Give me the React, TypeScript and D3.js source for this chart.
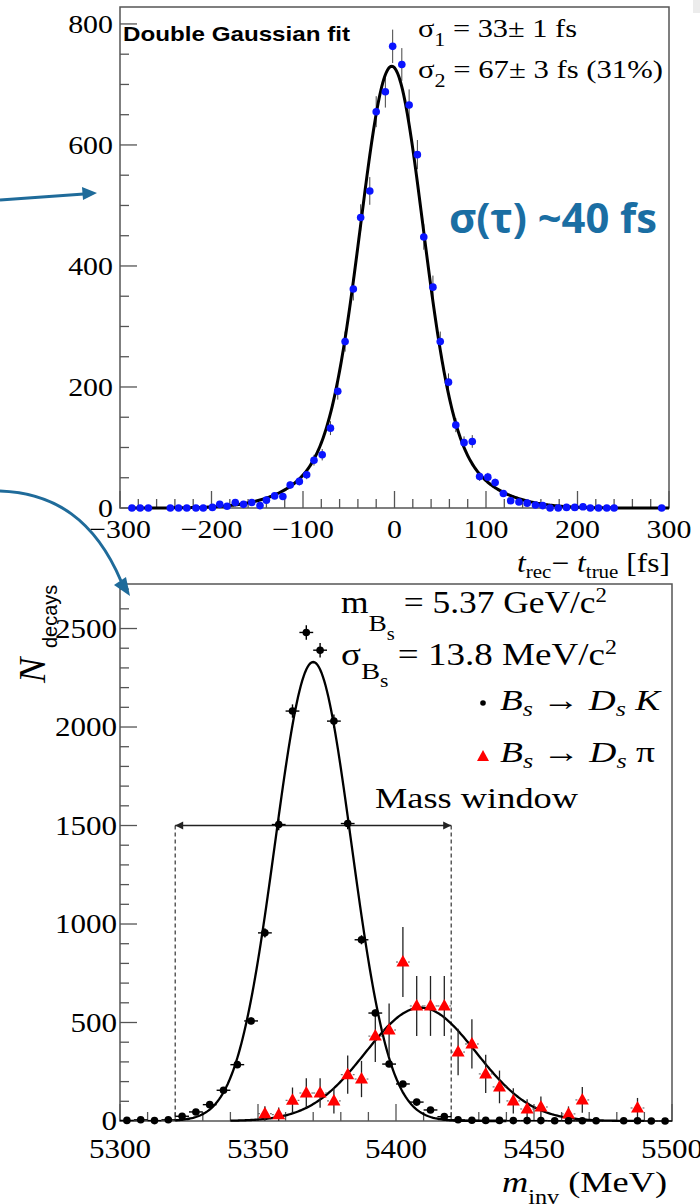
import React, { useEffect, useRef } from 'react';
import * as d3 from 'd3';

// ---- top panel: t_rec - t_true resolution ----
const tValues = [-287, -278, -269, -245, -236, -227, -217, -209, -199, -191, -183, -174, -165, -156, -147, -140, -131, -122, -114, -104, -96, -88, -79, -70, -62, -54, -45, -37, -27, -20, -10, -2, 8, 16, 25, 32, 42, 50, 59, 67, 76, 85, 93, 102, 110, 119, 127, 136, 145, 154, 162, 170, 179, 188, 197, 206, 214, 223, 232, 240, 292];
const tCounts = [0, 0, 0, 0, 0, 0, 0, 0, 1, 6, 3, 9, 6, 9, 4, 13, 20, 19, 38, 44, 55, 79, 88, 132, 193, 275, 362, 480, 524, 655, 688, 763, 733, 666, 584, 448, 365, 275, 208, 137, 108, 110, 52, 51, 42, 24, 12, 10, 8, 5, 4, 0, 0, 1, 1, 2, 0, 0, 0, 0, 0];
// double gaussian fit
const fitMean = -3;
const fitPeak = 730;
const sigma1 = 33;
const sigma2 = 67;
const frac2 = 0.31;

const topXTicks = [-300, -200, -100, 0, 100, 200, 300];
const topYTicks = [0, 200, 400, 600, 800];

// ---- bottom panel: invariant mass ----
const kMass = [5302.5, 5307.5, 5312.5, 5317.5, 5322.5, 5327.5, 5332.5, 5337.5, 5342.5, 5347.5, 5352.5, 5357.5, 5362.5, 5367.5, 5372.5, 5377.5, 5382.5, 5387.5, 5392.5, 5397.5, 5402.5, 5407.5, 5412.5, 5417.5, 5422.5, 5427.5, 5432.5, 5437.5, 5442.5, 5447.5, 5452.5, 5457.5, 5462.5, 5467.5, 5472.5, 5482.5, 5487.5, 5492.5, 5497.5];
const kCounts = [3, 6, 2, 6, 24, 46, 83, 156, 286, 508, 955, 1505, 2081, 2480, 2390, 2030, 1510, 920, 548, 289, 188, 96, 56, 22, 6, 4, 3, 3, 2, 2, 2, 1, 1, 1, 1, 1, 1, 0, 0];
const kErrors = [2, 2, 2, 2, 4, 5, 7, 9, 13, 17, 23, 29, 34, 37, 37, 34, 29, 23, 18, 13, 10, 7, 6, 3, 2, 2, 2, 2, 1, 1, 1, 1, 1, 1, 1, 1, 1, 1, 1];

const piMass = [5352.5, 5357.5, 5362.5, 5367.5, 5372.5, 5377.5, 5382.5, 5387.5, 5392.5, 5397.5, 5402.5, 5407.5, 5412.5, 5417.5, 5422.5, 5427.5, 5432.5, 5437.5, 5442.5, 5447.5, 5452.5, 5462.5, 5467.5, 5487.5];
const piCounts = [37, 32, 105, 142, 142, 102, 235, 213, 431, 462, 807, 584, 584, 584, 350, 391, 239, 173, 102, 61, 71, 36, 107, 66];
const piErrors = [38, 36, 65, 75, 75, 64, 97, 92, 131, 135, 178, 152, 152, 152, 118, 125, 97, 83, 64, 49, 53, 38, 65, 51];

const fitK = { mean: 5370, sigma: 13.8, amp: 2330 };
const fitPi = { mean: 5409, sigma: 20, amp: 575 };
const massWindow = [5320, 5420];

const botXTicks = [5300, 5350, 5400, 5450, 5500];
const botYTicks = [0, 500, 1000, 1500, 2000, 2500];

const SERIF = '"Liberation Serif", "DejaVu Serif", serif';
const SANS = '"Liberation Sans", Arial, sans-serif';
const BLUE_NOTE = '#1a6ea3';
const SX = 1.15; // the ROOT picture is a bit stretched sideways

type Part = { t: string; italic?: boolean; size?: number; dy?: number; family?: string };

function label(g: any, x: number, y: number, parts: Part[], o: any) {
    const txt = g.append('text')
        .attr('transform', `translate(${x},${y}) scale(${o.sx ?? 1},1)${o.rotate ? ` rotate(${o.rotate})` : ''}`)
        .attr('font-size', o.size)
        .attr('font-family', o.family ?? SERIF)
        .attr('text-anchor', o.anchor ?? 'start')
        .attr('fill', o.fill ?? '#000')
        .style('white-space', 'pre');
    if (o.weight) txt.attr('font-weight', o.weight);
    if (o.width) txt.attr('textLength', o.width).attr('lengthAdjust', 'spacingAndGlyphs');
    parts.forEach(p => {
        const ts = txt.append('tspan').text(p.t);
        if (p.italic) ts.attr('font-style', 'italic');
        if (p.size) ts.attr('font-size', p.size);
        if (p.dy) ts.attr('dy', p.dy);
        if (p.family) ts.attr('font-family', p.family);
    });
    return txt;
}

const App = () => {
    const svgRef = useRef<SVGSVGElement>(null);

    useEffect(() => {
        const svg = d3.select(svgRef.current);
        svg.selectAll('*').remove();
        const fmt = d3.format('d');

        svg.append('rect').attr('width', 700).attr('height', 1204).attr('fill', '#fff');
        svg.append('rect').attr('x', 693).attr('y', 0).attr('width', 7).attr('height', 13).attr('fill', '#ececec');

        // ================= TOP PANEL =================
        const top = { left: 120, right: 669, top: 7, bottom: 508 };
        const xT = d3.scaleLinear().domain([-300, 300]).range([top.left, top.right]);
        const yT = d3.scaleLinear().domain([0, 828]).range([top.bottom, top.top]);
        const gT = svg.append('g');

        gT.append('rect')
            .attr('x', top.left).attr('y', top.top)
            .attr('width', top.right - top.left).attr('height', top.bottom - top.top)
            .attr('fill', 'none').attr('stroke', '#555').attr('stroke-width', 1.5);

        // y ticks every 50, majors every 200
        d3.range(0, 828, 50).forEach(v => {
            const major = v % 200 === 0;
            gT.append('line')
                .attr('x1', top.left).attr('x2', top.left + (major ? 17 : 9))
                .attr('y1', yT(v)).attr('y2', yT(v))
                .attr('stroke', '#555').attr('stroke-width', 1.3);
        });
        // x ticks every 20, majors every 100
        d3.range(-300, 301, 20).forEach(v => {
            const major = v % 100 === 0;
            gT.append('line')
                .attr('x1', xT(v)).attr('x2', xT(v))
                .attr('y1', top.bottom).attr('y2', top.bottom - (major ? 17 : 9))
                .attr('stroke', '#555').attr('stroke-width', 1.3);
        });
        topYTicks.forEach(v => {
            label(gT, 113, yT(v) + 9, [{ t: fmt(v) }], { size: 26, anchor: 'end', sx: SX });
        });
        topXTicks.forEach(v => {
            label(gT, xT(v), 538, [{ t: fmt(v) }], { size: 26, anchor: 'middle', sx: SX });
        });

        // fit curve
        const h2overh1 = (frac2 / sigma2) / ((1 - frac2) / sigma1);
        const h1 = fitPeak / (1 + h2overh1);
        const h2 = fitPeak - h1;
        const dg = (t: number) =>
            h1 * Math.exp(-((t - fitMean) ** 2) / (2 * sigma1 * sigma1)) +
            h2 * Math.exp(-((t - fitMean) ** 2) / (2 * sigma2 * sigma2));
        const tGrid = d3.range(-290, 300.1, 1);
        const line = d3.line<number>().x(t => xT(t)).y(t => yT(dg(t)));

        // error bars
        tValues.forEach((t, i) => {
            const n = tCounts[i];
            const e = Math.sqrt(n);
            if (e > 0) {
                gT.append('line')
                    .attr('x1', xT(t)).attr('x2', xT(t))
                    .attr('y1', yT(n + e)).attr('y2', yT(Math.max(0, n - e)))
                    .attr('stroke', '#444').attr('stroke-width', 1);
            }
        });
        gT.append('path').datum(tGrid).attr('d', line)
            .attr('fill', 'none').attr('stroke', '#000').attr('stroke-width', 3);
        gT.selectAll('circle.pt').data(tValues).enter().append('circle')
            .attr('cx', d => xT(d)).attr('cy', (d, i) => yT(tCounts[i]))
            .attr('r', 3.8).attr('fill', '#0a14ff');

        label(gT, 123, 41, [{ t: 'Double Gaussian fit' }], { size: 21, family: SANS, weight: 'bold', width: 227 });
        label(gT, 418, 37, [{ t: 'σ' }, { t: '1', size: 18, dy: 9 }, { t: ' = 33± 1 fs', dy: -9 }], { size: 25, width: 159 });
        label(gT, 418, 78, [{ t: 'σ' }, { t: '2', size: 18, dy: 9 }, { t: ' = 67± 3 fs (31%)', dy: -9 }], { size: 25, width: 245 });
        label(gT, 670, 572, [
            { t: 't', italic: true }, { t: 'rec', size: 18, dy: 6 }, { t: '− ', dy: -6 },
            { t: 't', italic: true }, { t: 'true', size: 18, dy: 6 }, { t: ' [fs]', dy: -6 },
        ], { size: 27, anchor: 'end', width: 153 });

        label(svg, 449, 233, [{ t: 'σ(τ) ~40 fs' }], {
            size: 41, family: '"Open Sans", "Noto Sans", sans-serif', weight: 'bold', fill: BLUE_NOTE, width: 208,
        });

        // ================= BOTTOM PANEL =================
        const bot = { left: 120, right: 672, top: 584, bottom: 1121 };
        const xB = d3.scaleLinear().domain([5300, 5500]).range([bot.left, bot.right]);
        const yB = d3.scaleLinear().domain([0, 2726]).range([bot.bottom, bot.top]);
        const gB = svg.append('g');

        gB.append('rect')
            .attr('x', bot.left).attr('y', bot.top)
            .attr('width', bot.right - bot.left).attr('height', bot.bottom - bot.top)
            .attr('fill', 'none').attr('stroke', '#555').attr('stroke-width', 1.5);

        d3.range(0, 2726, 100).forEach(v => {
            const major = v % 500 === 0;
            gB.append('line')
                .attr('x1', bot.left).attr('x2', bot.left + (major ? 17 : 9))
                .attr('y1', yB(v)).attr('y2', yB(v))
                .attr('stroke', '#555').attr('stroke-width', 1.3);
        });
        d3.range(5300, 5501, 10).forEach(v => {
            const major = v % 50 === 0;
            gB.append('line')
                .attr('x1', xB(v)).attr('x2', xB(v))
                .attr('y1', bot.bottom).attr('y2', bot.bottom - (major ? 17 : 9))
                .attr('stroke', '#555').attr('stroke-width', 1.3);
        });
        botYTicks.forEach(v => {
            label(gB, 117, yB(v) + 9, [{ t: fmt(v) }], { size: 27, anchor: 'end', sx: SX });
        });
        botXTicks.forEach(v => {
            label(gB, xB(v), 1158, [{ t: fmt(v) }], { size: 27, anchor: 'middle', sx: SX });
        });

        // mass window
        const yWin = yB(1500);
        massWindow.forEach(m => {
            gB.append('line')
                .attr('x1', xB(m)).attr('x2', xB(m))
                .attr('y1', yWin).attr('y2', yB(0))
                .attr('stroke', '#333').attr('stroke-width', 1.2).attr('stroke-dasharray', '4,3');
        });
        gB.append('line')
            .attr('x1', xB(massWindow[0])).attr('x2', xB(massWindow[1]))
            .attr('y1', yWin).attr('y2', yWin)
            .attr('stroke', '#222').attr('stroke-width', 1.3);
        const xl = xB(massWindow[0]);
        const xr = xB(massWindow[1]);
        gB.append('path').attr('d', `M${xl},${yWin} l8,-4 l0,8 Z`).attr('fill', '#222');
        gB.append('path').attr('d', `M${xr},${yWin} l-8,-4 l0,8 Z`).attr('fill', '#222');
        label(gB, 375, 808, [{ t: 'Mass window' }], { size: 29, width: 203 });

        // fits
        const gauss = (p: any) => (m: number) => p.amp * Math.exp(-((m - p.mean) ** 2) / (2 * p.sigma * p.sigma));
        const fk = gauss(fitK);
        const fp = gauss(fitPi);
        gB.append('path').datum(d3.range(5320, 5440.1, 0.5))
            .attr('d', d3.line<number>().x(m => xB(m)).y(m => yB(fk(m))))
            .attr('fill', 'none').attr('stroke', '#000').attr('stroke-width', 2.3);
        gB.append('path').datum(d3.range(5340, 5490.1, 0.5))
            .attr('d', d3.line<number>().x(m => xB(m)).y(m => yB(fp(m))))
            .attr('fill', 'none').attr('stroke', '#000').attr('stroke-width', 2.3);

        // B_s -> D_s pi (red triangles)
        piMass.forEach((m, i) => {
            const n = piCounts[i];
            const e = piErrors[i];
            gB.append('line')
                .attr('x1', xB(m)).attr('x2', xB(m))
                .attr('y1', yB(n + e)).attr('y2', yB(Math.max(0, n - e)))
                .attr('stroke', '#222').attr('stroke-width', 1.3);
            gB.append('line')
                .attr('x1', xB(m - 2.5)).attr('x2', xB(m + 2.5))
                .attr('y1', yB(n)).attr('y2', yB(n))
                .attr('stroke', '#555').attr('stroke-width', 1).attr('stroke-dasharray', '2,2');
        });
        gB.selectAll('path.tri').data(piMass).enter().append('path')
            .attr('d', (m, i) => `M${xB(m)},${yB(piCounts[i]) - 7} l6.5,11.5 l-13,0 Z`)
            .attr('fill', '#ff0000');

        // B_s -> D_s K (black dots)
        kMass.forEach((m, i) => {
            const n = kCounts[i];
            const e = kErrors[i];
            gB.append('line')
                .attr('x1', xB(m - 2.5)).attr('x2', xB(m + 2.5))
                .attr('y1', yB(n)).attr('y2', yB(n))
                .attr('stroke', '#000').attr('stroke-width', 1.4);
            gB.append('line')
                .attr('x1', xB(m)).attr('x2', xB(m))
                .attr('y1', yB(n + e)).attr('y2', yB(Math.max(0, n - e)))
                .attr('stroke', '#000').attr('stroke-width', 1.4);
        });
        gB.selectAll('circle.k').data(kMass).enter().append('circle')
            .attr('cx', d => xB(d)).attr('cy', (d, i) => yB(kCounts[i]))
            .attr('r', 3.8).attr('fill', '#000');

        // legend
        label(gB, 341, 613, [
            { t: 'm' }, { t: 'B', size: 24, dy: 18 }, { t: 's', size: 18, dy: 9 },
            { t: ' = 5.37 GeV/c', dy: -27 }, { t: '2', size: 20, dy: -11 },
        ], { size: 31, width: 266 });
        label(gB, 341, 665, [
            { t: 'σ' }, { t: 'B', size: 24, dy: 14 }, { t: 's', size: 18, dy: 8 },
            { t: ' = 13.8 MeV/c', dy: -22 }, { t: '2', size: 20, dy: -11 },
        ], { size: 31, width: 276 });
        gB.append('circle').attr('cx', 483).attr('cy', 703).attr('r', 2.8).attr('fill', '#000');
        label(gB, 500, 710, [
            { t: 'B', italic: true }, { t: 's', italic: true, size: 21, dy: 6 }, { t: ' → ', dy: -6 },
            { t: 'D', italic: true }, { t: 's', italic: true, size: 21, dy: 6 }, { t: ' K', italic: true, dy: -6 },
        ], { size: 30, width: 160 });
        gB.append('path').attr('d', 'M483,750 l6,11 l-12,0 Z').attr('fill', '#ff0000');
        label(gB, 500, 762, [
            { t: 'B', italic: true }, { t: 's', italic: true, size: 21, dy: 6 }, { t: ' → ', dy: -6 },
            { t: 'D', italic: true }, { t: 's', italic: true, size: 21, dy: 6 }, { t: ' π', dy: -6 },
        ], { size: 30, width: 155 });

        // axis titles
        label(gB, 45, 683, [{ t: 'N', italic: true }], { size: 38, rotate: -90 });
        label(gB, 57, 648, [{ t: 'decays' }], { size: 20, family: SANS, rotate: -90 });
        label(gB, 667, 1192, [
            { t: 'm', italic: true }, { t: 'inv', size: 20, dy: 12 }, { t: ' (MeV)', dy: -12 },
        ], { size: 30, anchor: 'end', width: 165 });

        // ================= slide annotations (blue arrows) =================
        const ac = '#1f6b9a';
        svg.append('line').attr('x1', 0).attr('y1', 200).attr('x2', 84).attr('y2', 194)
            .attr('stroke', ac).attr('stroke-width', 3);
        svg.append('path').attr('d', 'M97,193 L82,187 L83,200 Z').attr('fill', ac);
        svg.append('path').attr('d', 'M0,491 C55,493 95,520 121,581')
            .attr('fill', 'none').attr('stroke', ac).attr('stroke-width', 3);
        svg.append('path').attr('d', 'M130,596 L114,585 L126,577 Z').attr('fill', ac);
    }, []);

    return <svg ref={svgRef} width={700} height={1204} style={{ position: 'absolute', left: 0, top: 0 }}></svg>;
};

export default App;
